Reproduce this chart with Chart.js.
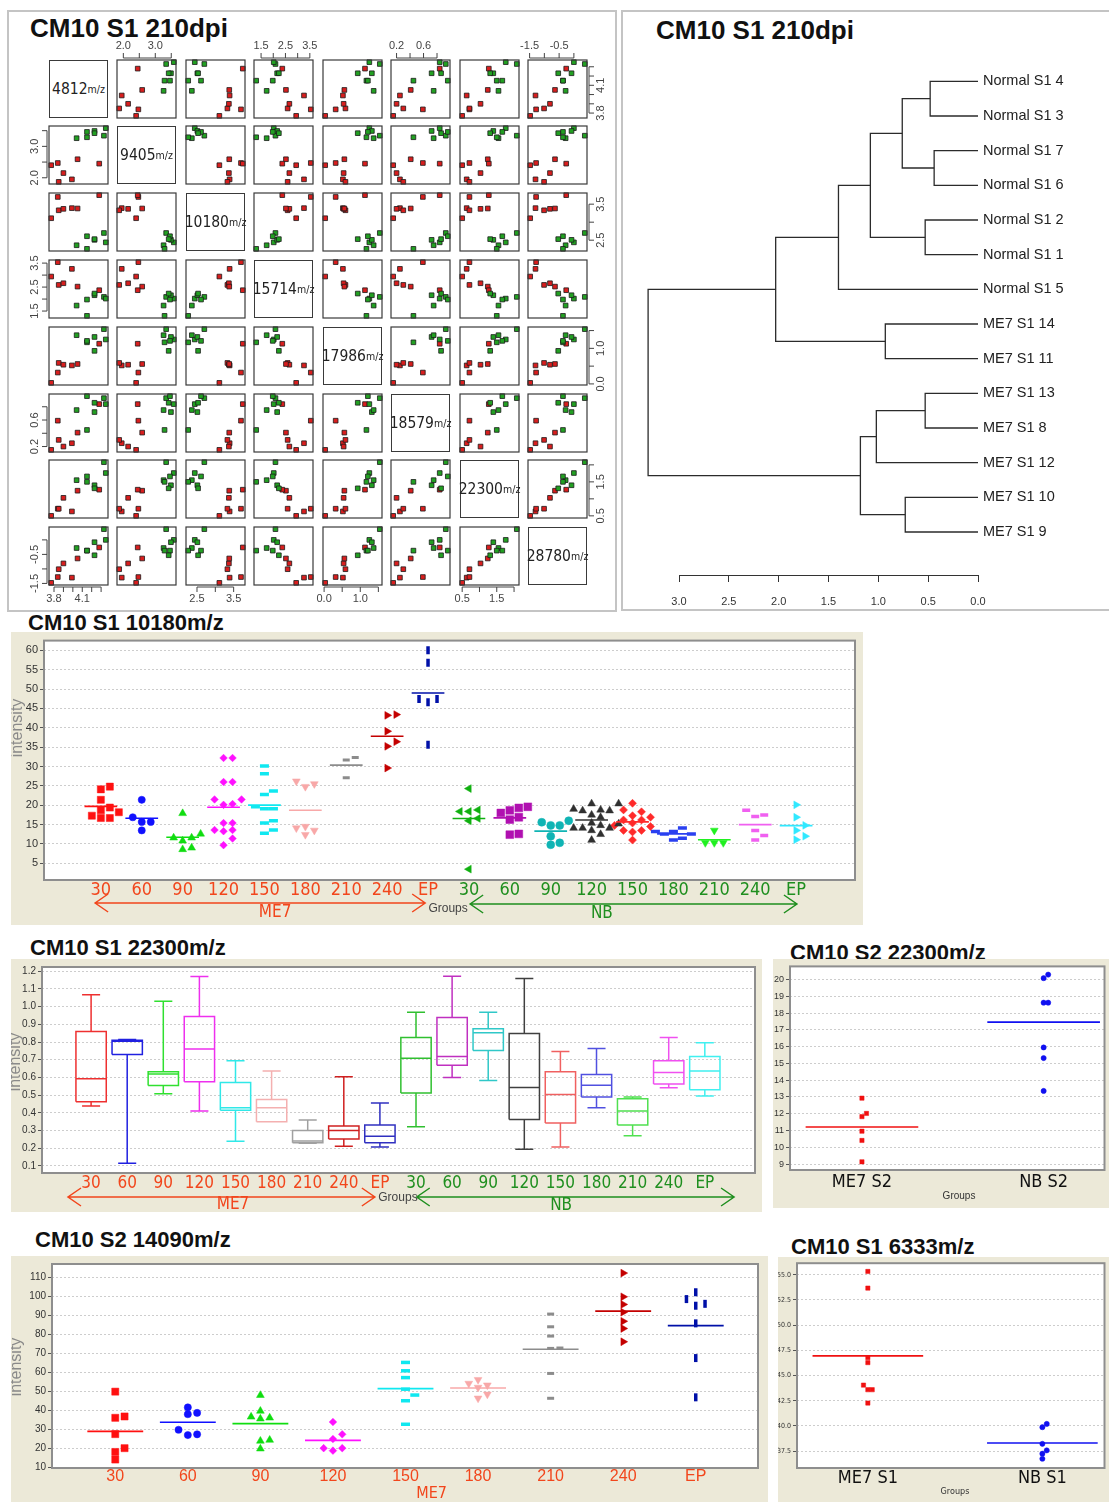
<!DOCTYPE html>
<html>
<head>
<meta charset="utf-8">
<title>CM10 SELDI peaks</title>
<script src="https://cdn.jsdelivr.net/npm/chart.js@4.4.1/dist/chart.umd.min.js"></script>
<style>
  body { margin: 0; width: 1109px; height: 1502px; position: relative; overflow: hidden; background: #fff;
         font-family: "Liberation Sans", Arial, sans-serif; }
  canvas { position: absolute; }
  .frame { position: absolute; border: 2px solid #c4c4c4; box-sizing: border-box; }
  .title { position: absolute; font-weight: bold; line-height: 1; white-space: nowrap; color: #111; }
  .diag { position: absolute; box-sizing: border-box; border: 1px solid #3a3a3a; display: flex;
          align-items: center; justify-content: center; color: #222; white-space: nowrap; font-size: 15.5px; }
  .diag small { font-size: 10.5px; }
</style>
</head>
<body>
<div class="frame" style="left:7px;top:10px;width:610px;height:602px"></div>
<div class="frame" style="left:621px;top:10px;width:492px;height:601px"></div>
<div class="title" style="left:30px;top:15px;font-size:26px">CM10 S1 210dpi</div>
<div class="title" style="left:656px;top:17px;font-size:26px">CM10 S1 210dpi</div>
<div class="title" style="left:28px;top:612px;font-size:22px">CM10 S1 10180m/z</div>
<div class="title" style="left:30px;top:937px;font-size:22px">CM10 S1 22300m/z</div>
<div class="title" style="left:790px;top:942px;font-size:22px">CM10 S2 22300m/z</div>
<div class="title" style="left:35px;top:1229px;font-size:22px">CM10 S2 14090m/z</div>
<div class="title" style="left:791px;top:1236px;font-size:22px">CM10 S1 6333m/z</div>

<script>
// ---------- scatter matrix: 7 ME7 + 7 normal samples, 8 peaks ----------
const mzNames = ['4812', '9405', '10180', '15714', '17986', '18579', '22300', '28780'];
const sampleGroup = ['ME7', 'ME7', 'ME7', 'ME7', 'ME7', 'ME7', 'ME7', 'NB', 'NB', 'NB', 'NB', 'NB', 'NB', 'NB'];
const mz4812  = [3.77, 3.99, 3.84, 3.85, 3.90, 4.05, 4.28, 4.33, 4.35, 4.23, 4.04, 4.15, 4.15, 4.23];
const mz9405  = [2.40, 1.95, 2.47, 1.87, 2.15, 2.59, 2.45, 3.34, 3.58, 3.49, 3.26, 3.29, 3.46, 3.42];
const mz10180 = [3.11, 3.39, 3.70, 3.33, 3.37, 3.38, 3.75, 2.70, 2.44, 2.51, 2.36, 2.26, 2.61, 2.53];
const mz15714 = [2.94, 3.26, 3.54, 2.59, 2.66, 2.52, 2.37, 2.09, 2.02, 2.16, 1.73, 1.30, 1.98, 2.23];
const mz17986 = [0.03, 0.52, 0.32, 0.59, 0.54, 0.56, 1.13, 1.54, 1.25, 1.32, 1.37, 1.17, 1.21, 0.93];
const mz18579 = [0.15, 0.25, 0.59, 0.30, 0.20, 0.41, 0.84, 0.93, 0.84, 0.72, 0.75, 0.45, 0.96, 0.86];
const mz22300 = [0.50, 0.63, 0.71, 0.71, 1.03, 1.24, 1.27, 2.08, 1.76, 1.40, 1.55, 1.50, 1.66, 1.31];
const mz28780 = [-1.48, -1.30, -1.28, -1.01, -0.81, -0.64, -0.26, 0.37, 0.00, -0.08, -0.28, -0.37, -0.37, -0.53];
const mzTicks = [[3.8, 3.9, 4.0, 4.1, 4.2, 4.3], [2.0, 2.5, 3.0, 3.5], [2.5, 3.0, 3.5], [1.5, 2.0, 2.5, 3.0, 3.5],
                 [0, 0.5, 1.0, 1.5], [0.2, 0.4, 0.6, 0.8], [0.5, 1.0, 1.5, 2.0], [-1.5, -1.0, -0.5, 0]];
const mzTickLabels = [[3.8, 4.1], [2.0, 3.0], [2.5, 3.5], [1.5, 2.5, 3.5], [0, 1.0], [0.2, 0.6], [0.5, 1.5], [-1.5, -0.5]];

// ---------- dendrogram ----------
const leafNames = ['Normal S1 4', 'Normal S1 3', 'Normal S1 7', 'Normal S1 6', 'Normal S1 2', 'Normal S1 1', 'Normal S1 5',
                   'ME7 S1 14', 'ME7 S1 11', 'ME7 S1 13', 'ME7 S1 8', 'ME7 S1 12', 'ME7 S1 10', 'ME7 S1 9'];
// hclust style: negative = leaf (1-based), positive = earlier merge
const mergeA = [-1, -3, 1, -5, 3, 5, -8, 6, -10, 9, -13, 10, 8];
const mergeB = [-2, -4, 2, -6, 4, -7, -9, 7, -11, -12, -14, 11, 12];
const mergeHeight = [0.48, 0.44, 0.76, 0.53, 1.08, 1.40, 0.93, 2.03, 0.53, 1.02, 0.73, 1.18, 3.31];
const dendroTicks = [0, 0.5, 1.0, 1.5, 2.0, 2.5, 3.0];

// ---------- CM10 S1 10180 m/z ----------
const groupNames = ['30', '60', '90', '120', '150', '180', '210', '240', 'EP',
                    '30', '60', '90', '120', '150', '180', '210', '240', 'EP'];
const s1_10180 = [
  [24.8, 24.1, 21.4, 19.4, 18.7, 18.2, 17.3, 16.7, 16.7],
  [21.4, 16.9, 15.7, 15.7, 13.5],
  [17.9, 12.6, 11.6, 11.6, 10.8, 9.0, 8.6],
  [32.2, 32.2, 26.0, 26.0, 21.5, 21.5, 20.3, 20.1, 15.4, 15.4, 13.3, 13.6, 13.6, 11.4, 9.7],
  [30.1, 28.1, 23.7, 22.8, 19.1, 19.6, 19.1, 15.4, 16.0, 13.6, 12.8],
  [24.8, 26.2, 25.5, 13.5, 14.5, 14.1, 12.4],
  [32.3, 31.7, 27.1],
  [43.4, 43.2, 39.1, 35.2, 36.4, 29.6],
  [60.0, 56.8, 46.6, 47.4, 47.4, 35.6],
  [24.3, 18.4, 18.8, 18.4, 16.6, 16.0, 3.5],
  [18.7, 19.6, 19.3, 18.0, 16.3, 16.9, 12.4, 12.6],
  [14.8, 16.0, 15.6, 14.8, 12.0, 10.3, 9.8],
  [20.4, 20.4, 19.0, 18.6, 18.6, 18.8, 17.5, 16.9, 15.2, 15.4, 14.8, 14.1, 14.1, 14.1, 12.5, 11.0, 13.5],
  [20.5, 17.3, 18.3, 18.8, 16.9, 16.2, 16.2, 15.4, 14.8, 14.5, 13.1, 13.5, 13.5, 11.0],
  [13.2, 14.1, 13.2, 11.0, 11.5, 12.6, 12.6],
  [13.5, 10.3, 10.3, 10.3],
  [18.7, 17.1, 17.5, 13.5, 12.2, 11.0],
  [20.1, 16.9, 14.8, 13.5, 12.0, 11.1]
];
const ticks10180 = [5, 10, 15, 20, 25, 30, 35, 40, 45, 50, 55, 60];

// ---------- CM10 S1 22300 m/z (box plots) ----------
const box22300Min = [0.438, 0.115, 0.508, 0.410, 0.239, 0.349, 0.228, 0.211, 0.207,
                     0.322, 0.600, 0.582, 0.194, 0.207, 0.429, 0.270, 0.541, 0.495];
const box22300Q1  = [0.462, 0.730, 0.554, 0.576, 0.414, 0.349, 0.231, 0.252, 0.231,
                     0.512, 0.669, 0.752, 0.362, 0.342, 0.490, 0.331, 0.563, 0.530];
const box22300Med = [0.593, 0.805, 0.619, 0.761, 0.428, 0.429, 0.241, 0.300, 0.268,
                     0.709, 0.718, 0.853, 0.543, 0.504, 0.556, 0.410, 0.628, 0.637];
const box22300Q3  = [0.860, 0.810, 0.632, 0.945, 0.571, 0.475, 0.300, 0.325, 0.331,
                     0.825, 0.938, 0.875, 0.848, 0.632, 0.617, 0.479, 0.694, 0.718];
const box22300Max = [1.067, 0.815, 1.030, 1.170, 0.694, 0.637, 0.360, 0.604, 0.456,
                     0.969, 1.172, 0.969, 1.159, 0.746, 0.764, 0.490, 0.825, 0.796];
const ticks22300 = [0.1, 0.2, 0.3, 0.4, 0.5, 0.6, 0.7, 0.8, 0.9, 1.0, 1.1, 1.2];

// ---------- CM10 S2 22300 m/z ----------
const groupsS2 = ['ME7 S2', 'NB S2'];
const s2_22300 = [[12.93, 12.02, 11.83, 10.96, 10.41, 9.14], [20.29, 20.08, 18.62, 18.62, 15.95, 15.32, 13.36]];
const ticksS2_22300 = [9, 10, 11, 12, 13, 14, 15, 16, 17, 18, 19, 20];

// ---------- CM10 S2 14090 m/z ----------
const groupsME7 = ['30', '60', '90', '120', '150', '180', '210', '240', 'EP'];
const s2_14090 = [
  [49.9, 36.8, 36.1, 27.5, 20.1, 18.1, 14.1],
  [41.6, 38.0, 38.7, 29.8, 27.4, 27.0],
  [48.0, 39.7, 35.6, 36.6, 36.1, 24.4, 23.9, 19.8],
  [33.9, 27.4, 24.9, 20.1, 20.1, 18.8],
  [65.3, 60.9, 57.3, 51.2, 48.1, 45.1, 32.7],
  [56.2, 53.3, 54.2, 52.1, 48.5, 46.4],
  [90.8, 84.1, 79.2, 72.9, 72.7, 59.5, 46.4],
  [112.4, 99.9, 95.9, 91.8, 87.0, 83.2, 76.2],
  [102.3, 98.7, 96.2, 95.2, 85.9, 67.6, 46.9]
];
const ticks14090 = [10, 20, 30, 40, 50, 60, 70, 80, 90, 100, 110];

// ---------- CM10 S1 6333 m/z ----------
const groupsS1 = ['ME7 S1', 'NB S1'];
const s1_6333 = [[55.33, 53.68, 46.78, 46.28, 44.05, 43.59, 43.59, 42.27], [40.2, 39.87, 38.22, 37.57, 37.24, 36.74]];
const ticks6333 = [37.5, 40, 42.5, 45, 47.5, 50, 52.5, 55];

// ---------- styles ----------
const BEIGE = '#ece9d8', RED = '#f2461c', GREEN = '#1f8f1f';
const ME7_MARKERS = [
  { shape: 'rect', color: '#ff1010', r: 5 },
  { shape: 'circle', color: '#1010ff', r: 3.6 },
  { shape: 'triangle', color: '#10dd10', r: 4.5 },
  { shape: 'rectRot', color: '#ff10ff', r: 3.8 },
  { shape: 'line', color: '#10e8f0', r: 4.5, w: 3.5 },
  { shape: 'triangle', color: '#f8a8a8', r: 4.5, rot: 180 },
  { shape: 'line', color: '#8c8c8c', r: 3.5, w: 3 },
  { shape: 'triangle', color: '#c40000', r: 4.5, rot: 90 },
  { shape: 'line', color: '#0010a8', r: 4, w: 3.5, rot: 90 }
];
const NB_MARKERS = [
  { shape: 'triangle', color: '#10b010', r: 4.5, rot: -90 },
  { shape: 'rect', color: '#b010b0', r: 5.5 },
  { shape: 'circle', color: '#10b4b4', r: 4 },
  { shape: 'triangle', color: '#303030', r: 4.5 },
  { shape: 'rectRot', color: '#ff2a2a', r: 4 },
  { shape: 'line', color: '#2a40f0', r: 4.5, w: 3.5 },
  { shape: 'triangle', color: '#20f020', r: 4.5, rot: 180 },
  { shape: 'line', color: '#f060f0', r: 4, w: 3.5 },
  { shape: 'triangle', color: '#30e8ff', r: 4.5, rot: 90 }
];
const BOX_COLORS = ['#ee3030', '#2020e0', '#30e030', '#ee30ee', '#30e8e8', '#f4b0b0', '#a0a0a0', '#d02020', '#3030c0',
                    '#30c030', '#c030c0', '#30c8c8', '#404040', '#f06060', '#5050e0', '#50e050', '#f050f0', '#40f0f0'];

// pick a narrow font if one is installed
function hasFont(name) {
  const c = document.createElement('canvas').getContext('2d');
  c.font = '40px monospace';
  const a = c.measureText('0123456789 ME7 abc').width;
  c.font = '40px "' + name + '", monospace';
  return c.measureText('0123456789 ME7 abc').width !== a;
}
const NARROW = hasFont('Liberation Sans Narrow') ? '"Liberation Sans Narrow"'
             : hasFont('DejaVu Sans Condensed') ? '"DejaVu Sans Condensed"' : '"Liberation Sans"';
const SANS = '"Liberation Sans", Arial, sans-serif';

Chart.defaults.animation = false;
Chart.defaults.events = [];
Chart.defaults.plugins.legend.display = false;
Chart.defaults.plugins.tooltip.enabled = false;
Chart.defaults.font.family = SANS;

function addCanvas(l, t, w, h) {
  const c = document.createElement('canvas');
  c.width = w; c.height = h;
  c.style.left = l + 'px'; c.style.top = t + 'px';
  c.style.width = w + 'px'; c.style.height = h + 'px';
  document.body.appendChild(c);
  return c;
}
const mean = a => a.reduce((s, v) => s + v, 0) / a.length;

// simple beeswarm: slot 0, +1, -1, +2 ... for values that would collide
function swarm(vals, gap) {
  const order = vals.map((v, i) => i).sort((a, b) => vals[a] - vals[b]);
  const placed = [], slot = [];
  order.forEach(i => {
    for (let k = 0; ; k++) {
      const s = k === 0 ? 0 : (k % 2 ? (k + 1) / 2 : -k / 2);
      if (!placed.some(p => p.s === s && Math.abs(p.v - vals[i]) < gap)) {
        placed.push({ s, v: vals[i] }); slot[i] = s; break;
      }
    }
  });
  return slot;
}

// ================= scatter matrix =================
const mzValues = [mz4812, mz9405, mz10180, mz15714, mz17986, mz18579, mz22300, mz28780];
const matrixAxes = {
  id: 'matrixAxes',
  afterDraw(chart, args, o) {
    const { ctx, chartArea: a, scales: { x, y } } = chart;
    ctx.save();
    ctx.strokeStyle = '#3a3a3a'; ctx.lineWidth = 1.2;
    ctx.strokeRect(a.left, a.top, a.right - a.left, a.bottom - a.top);
    ctx.lineWidth = 1; ctx.strokeStyle = '#444'; ctx.fillStyle = '#444';
    ctx.font = '11px ' + SANS; ctx.textAlign = 'center'; ctx.textBaseline = 'middle';
    const gap = 2, tl = 5, lo = 14;
    if (o.top || o.bottom) {
      const t = mzTicks[o.c], d = o.top ? -1 : 1, y0 = (o.top ? a.top : a.bottom) + d * gap;
      ctx.beginPath();
      ctx.moveTo(x.getPixelForValue(t[0]), y0); ctx.lineTo(x.getPixelForValue(t[t.length - 1]), y0);
      t.forEach(v => { const p = x.getPixelForValue(v); ctx.moveTo(p, y0); ctx.lineTo(p, y0 + d * tl); });
      ctx.stroke();
      mzTickLabels[o.c].forEach(v => ctx.fillText(v.toFixed(1), x.getPixelForValue(v), (o.top ? a.top : a.bottom) + d * lo));
    }
    if (o.left || o.right) {
      const t = mzTicks[o.r], d = o.left ? -1 : 1, x0 = (o.left ? a.left : a.right) + d * gap;
      ctx.beginPath();
      ctx.moveTo(x0, y.getPixelForValue(t[0])); ctx.lineTo(x0, y.getPixelForValue(t[t.length - 1]));
      t.forEach(v => { const p = y.getPixelForValue(v); ctx.moveTo(x0, p); ctx.lineTo(x0 + d * tl, p); });
      ctx.stroke();
      mzTickLabels[o.r].forEach(v => {
        ctx.save();
        ctx.translate((o.left ? a.left : a.right) + d * lo, y.getPixelForValue(v));
        ctx.rotate(-Math.PI / 2);
        ctx.fillText(v.toFixed(1), 0, 0);
        ctx.restore();
      });
    }
    ctx.restore();
  }
};

const M = 24;
for (let r = 0; r < 8; r++) {
  for (let c = 0; c < 8; c++) {
    const cx = Math.round(49 + c * 68.45), cy = Math.round(59.5 + r * 66.8), cw = 59, ch = 58;
    if (r === c) {
      const d = document.createElement('div');
      d.className = 'diag';
      d.style.cssText = `left:${cx}px;top:${cy}px;width:${cw}px;height:${ch}px;font-family:${NARROW},${SANS}`;
      d.innerHTML = mzNames[r] + '<small>m/z</small>';
      document.body.appendChild(d);
      continue;
    }
    const xs = mzValues[c], ys = mzValues[r];
    const pad = (a) => { const lo = Math.min(...a), hi = Math.max(...a), p = (hi - lo) * 0.04; return [lo - p, hi + p]; };
    const xr = pad(xs), yr = pad(ys);
    const cv = addCanvas(cx - M, cy - M, cw + 2 * M, ch + 2 * M);
    new Chart(cv, {
      type: 'scatter',
      data: { datasets: [{
        data: xs.map((v, k) => ({ x: v, y: ys[k] })),
        pointStyle: 'rect', pointRadius: 3.3,
        pointBackgroundColor: sampleGroup.map(g => g === 'ME7' ? '#d81e1e' : '#22a022'),
        pointBorderColor: '#1a1a1a', pointBorderWidth: 0.8, clip: false
      }] },
      options: {
        responsive: false,
        layout: { padding: M },
        scales: { x: { display: false, min: xr[0], max: xr[1] }, y: { display: false, min: yr[0], max: yr[1] } },
        plugins: { matrixAxes: { r, c, top: r === 0 && c % 2 === 1, bottom: r === 7 && c % 2 === 0,
                                 left: c === 0 && r % 2 === 1, right: c === 7 && r % 2 === 0 } }
      },
      plugins: [matrixAxes]
    });
  }
}

// ================= dendrogram =================
(function () {
  const cv = addCanvas(621, 10, 488, 600);
  const nodes = [];
  const pos = k => k < 0 ? { h: 0, y: -k - 1 } : nodes[k - 1];
  const datasets = mergeHeight.map((h, k) => {
    const a = pos(mergeA[k]), b = pos(mergeB[k]);
    nodes.push({ h, y: (a.y + b.y) / 2 });
    return { showLine: true, pointRadius: 0, borderColor: '#2b2b2b', borderWidth: 1.3, clip: false,
             data: [{ x: a.h, y: a.y }, { x: h, y: a.y }, { x: h, y: b.y }, { x: b.h, y: b.y }] };
  });
  const leafText = {
    id: 'leafText',
    afterDraw(chart) {
      const { ctx, scales: { x, y } } = chart;
      ctx.save();
      ctx.fillStyle = '#222'; ctx.font = '14.5px ' + SANS; ctx.textBaseline = 'middle';
      leafNames.forEach((n, i) => ctx.fillText(n, x.getPixelForValue(0) + 5, y.getPixelForValue(i)));
      ctx.restore();
    }
  };
  new Chart(cv, {
    type: 'scatter',
    data: { datasets },
    options: {
      responsive: false,
      layout: { padding: { left: 58, right: 131, top: 54, bottom: 0 } },
      scales: {
        x: { type: 'linear', reverse: true, min: 0, max: 3,
             afterFit: s => { s.height = 35; },
             afterBuildTicks: s => { s.ticks = dendroTicks.map(v => ({ value: v })); },
             grid: { drawOnChartArea: false, drawTicks: true, tickLength: 7, color: '#333' },
             border: { display: true, color: '#333', width: 1 },
             ticks: { autoSkip: false, maxRotation: 0, padding: 14, color: '#333',
                      font: { size: 11, lineHeight: 1 }, callback: v => v.toFixed(1) } },
        y: { display: false, reverse: true, min: -0.5, max: 14.24 }
      }
    },
    plugins: [leafText]
  });
})();

// ================= dot / box plots =================
const plotExtras = {
  id: 'plotExtras',
  beforeDraw(chart) {
    const { ctx, chartArea: a } = chart;
    ctx.save(); ctx.fillStyle = '#fff';
    ctx.fillRect(a.left, a.top, a.right - a.left, a.bottom - a.top);
    ctx.restore();
  },
  afterDraw(chart, args, o) {
    const { ctx, chartArea: a, scales: { x } } = chart;
    ctx.save();
    ctx.strokeStyle = '#8e8e8e'; ctx.lineWidth = 2;
    ctx.strokeRect(a.left, a.top, a.right - a.left, a.bottom - a.top);
    (o.arrows || []).forEach(ar => {
      const x1 = x.getPixelForValue(ar.from), x2 = x.getPixelForValue(ar.to), y = ar.y;
      ctx.strokeStyle = ar.color; ctx.lineWidth = 1.5;
      ctx.beginPath();
      ctx.moveTo(x1, y); ctx.lineTo(x2, y);
      ctx.moveTo(x1 + 13, y - 9); ctx.lineTo(x1, y); ctx.lineTo(x1 + 13, y + 9);
      ctx.moveTo(x2 - 13, y - 9); ctx.lineTo(x2, y); ctx.lineTo(x2 - 13, y + 9);
      ctx.stroke();
    });
    (o.texts || []).forEach(t => {
      ctx.save();
      ctx.font = t.font; ctx.fillStyle = t.color; ctx.textAlign = 'center'; ctx.textBaseline = 'middle';
      ctx.translate(t.xv !== undefined ? x.getPixelForValue(t.xv) : t.x, t.y);
      if (t.rot) ctx.rotate(-Math.PI / 2);
      ctx.fillText(t.text, 0, 0);
      ctx.restore();
    });
    ctx.restore();
  }
};

function plotChart(o, datasets) {
  const [bl, bt, br, bb] = o.box, [al, at, ar, ab] = o.area;
  const cv = addCanvas(bl, bt, br - bl, bb - bt);
  cv.style.background = BEIGE;
  return new Chart(cv, {
    type: 'scatter',
    data: { datasets },
    options: {
      responsive: false,
      layout: { padding: { left: 0, top: at - bt, right: br - ar, bottom: 0 } },
      scales: {
        x: { type: 'linear', min: o.xmin, max: o.xmax,
             afterFit: s => { s.height = bb - ab; },
             afterBuildTicks: s => { s.ticks = o.groups.map((g, i) => ({ value: i })); },
             grid: { display: false, drawTicks: false }, border: { display: false },
             ticks: { autoSkip: false, maxRotation: 0, padding: o.xPad, font: o.xFont,
                      color: c => o.xColors[c.index], callback: v => o.groups[v] } },
        y: { type: 'linear', min: o.ymin, max: o.ymax,
             afterFit: s => { s.width = al - bl; },
             afterBuildTicks: s => { s.ticks = o.yTicks.map(v => ({ value: v })); },
             grid: { color: '#cdcdcd', tickColor: '#555', tickLength: 4 },
             border: { display: false, dash: [2, 2] },
             ticks: { padding: 2, color: '#333', font: o.yFont, callback: o.yFmt } }
      },
      plugins: { plotExtras: o.extras }
    },
    plugins: [plotExtras]
  });
}

function dotPlot(o) {
  const datasets = [];
  o.values.forEach((vals, i) => {
    const st = o.markers[i], slots = swarm(vals, o.gap);
    datasets.push({
      order: 2,
      data: vals.map((v, k) => ({ x: i + slots[k] * o.slotW, y: v })),
      pointStyle: st.shape, pointRotation: st.rot || 0, pointRadius: st.r,
      pointBackgroundColor: st.color, pointBorderColor: st.color, pointBorderWidth: st.w || 0.5
    });
    const m = mean(vals);
    datasets.push({ order: 1, showLine: true, pointRadius: 0, borderColor: st.color, borderWidth: 1.6,
                    data: [{ x: i - o.half, y: m }, { x: i + o.half, y: m }] });
  });
  return plotChart(o, datasets);
}

const ME7_NB_COLORS = groupNames.map((g, i) => i < 9 ? RED : GREEN);

// CM10 S1 10180
dotPlot({
  box: [11, 632, 863, 925], area: [44, 637, 855, 880],
  xmin: -1.39, xmax: 18.44, ymin: 0.7, ymax: 62.5,
  groups: groupNames, values: s1_10180, markers: ME7_MARKERS.concat(NB_MARKERS),
  gap: 1.8, slotW: 0.22, half: 0.4,
  yTicks: ticks10180, yFmt: v => String(v), yFont: { size: 11 },
  xColors: ME7_NB_COLORS, xFont: { family: NARROW, size: 18, lineHeight: 1 }, xPad: 1.5,
  extras: {
    arrows: [{ from: -0.14, to: 7.93, y: 271, color: RED }, { from: 9.03, to: 17.02, y: 272, color: GREEN }],
    texts: [
      { text: 'ME7', xv: 4.26, y: 281, color: RED, font: '17px ' + NARROW },
      { text: 'NB', xv: 12.25, y: 282, color: GREEN, font: '17px ' + NARROW },
      { text: 'Groups', xv: 8.49, y: 277, color: '#444', font: '12px ' + SANS },
      { text: 'intensity', x: 7, y: 96, rot: true, color: '#8a8a8a', font: '16px ' + SANS }
    ]
  }
});

// CM10 S1 22300 box plots
(function () {
  const b = 0.42, c = 0.25;
  const datasets = groupNames.map((g, i) => {
    const lo = box22300Min[i], q1 = box22300Q1[i], md = box22300Med[i], q3 = box22300Q3[i], hi = box22300Max[i];
    const gapPt = { x: i, y: null };
    return { showLine: true, spanGaps: false, pointRadius: 0, borderColor: BOX_COLORS[i], borderWidth: 1.5,
      data: [{ x: i - b, y: q1 }, { x: i + b, y: q1 }, { x: i + b, y: q3 }, { x: i - b, y: q3 }, { x: i - b, y: q1 }, gapPt,
             { x: i - b, y: md }, { x: i + b, y: md }, gapPt,
             { x: i, y: q3 }, { x: i, y: hi }, gapPt, { x: i - c, y: hi }, { x: i + c, y: hi }, gapPt,
             { x: i, y: q1 }, { x: i, y: lo }, gapPt, { x: i - c, y: lo }, { x: i + c, y: lo }] };
  });
  plotChart({
    box: [11, 959, 762, 1212], area: [42, 963, 755, 1173],
    xmin: -1.36, xmax: 18.39, ymin: 0.06, ymax: 1.224,
    groups: groupNames,
    yTicks: ticks22300, yFmt: v => v.toFixed(1), yFont: { size: 10 },
    xColors: ME7_NB_COLORS, xFont: { family: NARROW, size: 17, lineHeight: 1 }, xPad: 2.5,
    extras: {
      arrows: [{ from: -0.64, to: 7.86, y: 238, color: RED }, { from: 9.02, to: 17.81, y: 238, color: GREEN }],
      texts: [
        { text: 'ME7', xv: 3.93, y: 246, color: RED, font: '17px ' + NARROW },
        { text: 'NB', xv: 13.02, y: 247, color: GREEN, font: '17px ' + NARROW },
        { text: 'Groups', xv: 8.5, y: 239, color: '#444', font: '12px ' + SANS },
        { text: 'intensity', x: 5, y: 103, rot: true, color: '#8a8a8a', font: '16px ' + SANS }
      ]
    }
  }, datasets);
})();

// CM10 S2 22300
dotPlot({
  box: [773, 959, 1109, 1208], area: [790, 964, 1105, 1170],
  xmin: -0.396, xmax: 1.335, ymin: 8.65, ymax: 20.78,
  groups: groupsS2, values: s2_22300,
  markers: [{ shape: 'rect', color: '#f01010', r: 3 }, { shape: 'circle', color: '#1010f0', r: 2.6 }],
  gap: 0.3, slotW: 0.025, half: 0.31,
  yTicks: ticksS2_22300, yFmt: v => String(v), yFont: { size: 9 },
  xColors: ['#111', '#111'], xFont: { family: NARROW, size: 18, lineHeight: 1 }, xPad: 3,
  extras: { texts: [{ text: 'Groups', x: 186, y: 237, color: '#333', font: '10px ' + SANS }] }
});

// CM10 S2 14090
dotPlot({
  box: [11, 1256, 768, 1502], area: [52, 1260, 758, 1468],
  xmin: -0.872, xmax: 8.858, ymin: 9.64, ymax: 117.2,
  groups: groupsME7, values: s2_14090, markers: ME7_MARKERS,
  gap: 3.6, slotW: 0.128, half: 0.385,
  yTicks: ticks14090, yFmt: v => String(v), yFont: { size: 10 },
  xColors: groupsME7.map(() => RED), xFont: { family: SANS, size: 16, lineHeight: 1 }, xPad: 1,
  extras: {
    texts: [
      { text: 'ME7', xv: 4.36, y: 238, color: RED, font: '16px ' + NARROW },
      { text: 'intensity', x: 6, y: 111, rot: true, color: '#8a8a8a', font: '16px ' + SANS }
    ]
  }
});

// CM10 S1 6333
dotPlot({
  box: [778, 1257, 1109, 1502], area: [797, 1262, 1105, 1468],
  xmin: -0.406, xmax: 1.356, ymin: 35.82, ymax: 56.15,
  groups: groupsS1, values: s1_6333,
  markers: [{ shape: 'rect', color: '#f01010', r: 3 }, { shape: 'circle', color: '#1010f0', r: 2.6 }],
  gap: 0.5, slotW: 0.025, half: 0.317,
  yTicks: ticks6333, yFmt: v => v.toFixed(1), yFont: { family: NARROW, size: 7 },
  xColors: ['#111', '#111'], xFont: { family: NARROW, size: 18, lineHeight: 1 }, xPad: 1,
  extras: { texts: [{ text: 'Groups', x: 177, y: 235, color: '#333', font: '9px ' + NARROW }] }
});
</script>
</body>
</html>
